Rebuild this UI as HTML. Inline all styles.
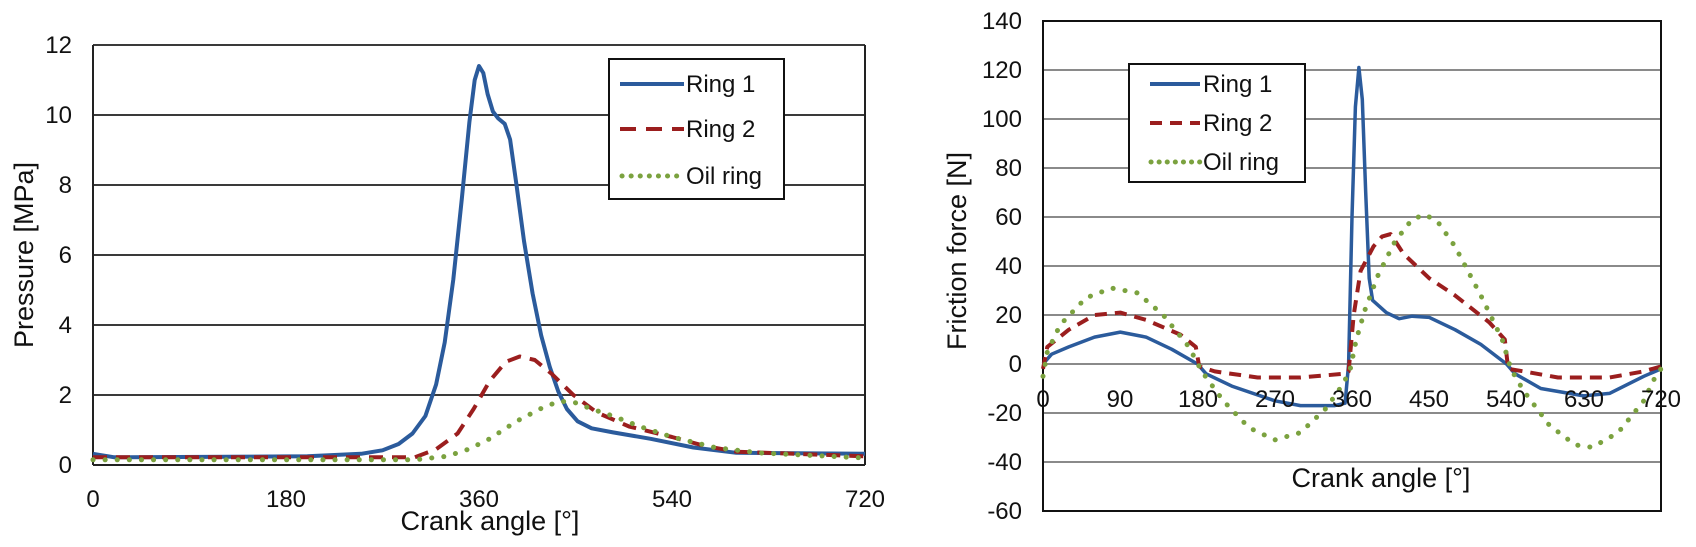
<!DOCTYPE html>
<html><head><meta charset="utf-8">
<style>
html,body{margin:0;padding:0;background:#fff;}
svg{display:block;}
text{font-family:"Liberation Sans",Arial,sans-serif;fill:#111;}
</style></head>
<body>
<svg id="s" width="1696" height="547" viewBox="0 0 1696 547" xmlns="http://www.w3.org/2000/svg">
<rect width="1696" height="547" fill="#fff"/>
<g id="L"></g>
<g id="R"></g>
<g font-size="24" text-anchor="end">
<text x="72" y="53">12</text><text x="72" y="123">10</text><text x="72" y="193">8</text>
<text x="72" y="263">6</text><text x="72" y="333">4</text><text x="72" y="403">2</text><text x="72" y="473">0</text>
</g>
<g font-size="24" text-anchor="middle">
<text x="93" y="507">0</text><text x="286" y="507">180</text><text x="479" y="507">360</text>
<text x="672" y="507">540</text><text x="865" y="507">720</text>
</g>
<text x="490" y="530" font-size="27" text-anchor="middle">Crank angle [°]</text>
<text transform="translate(33,255) rotate(-90)" font-size="27" text-anchor="middle">Pressure [MPa]</text>
<g font-size="24" text-anchor="end">
<text x="1022" y="29">140</text><text x="1022" y="78">120</text><text x="1022" y="127">100</text>
<text x="1022" y="176">80</text><text x="1022" y="225">60</text><text x="1022" y="274">40</text>
<text x="1022" y="323">20</text><text x="1022" y="372">0</text><text x="1022" y="421">-20</text>
<text x="1022" y="470">-40</text><text x="1022" y="519">-60</text>
</g>
<g font-size="24" text-anchor="middle">
<text x="1043" y="407">0</text><text x="1120" y="407">90</text><text x="1198" y="407">180</text>
<text x="1275" y="407">270</text><text x="1352" y="407">360</text><text x="1429" y="407">450</text>
<text x="1506" y="407">540</text><text x="1584" y="407">630</text><text x="1661" y="407">720</text>
</g>
<text x="1381" y="487" font-size="27" text-anchor="middle">Crank angle [°]</text>
<text transform="translate(966,251) rotate(-90)" font-size="27" text-anchor="middle">Friction force [N]</text>
<g>
<rect x="609" y="59" width="175" height="140" fill="#fff" stroke="#111" stroke-width="2"/>
<line x1="620" y1="84" x2="684" y2="84" stroke="#2b5b9c" stroke-width="4"/>
<line x1="620" y1="129" x2="684" y2="129" stroke="#9b1e1e" stroke-width="4" stroke-dasharray="16,10"/>
<line x1="622" y1="176" x2="682" y2="176" stroke="#7ba23f" stroke-width="5" stroke-linecap="round" stroke-dasharray="0.1,9"/>
<text x="686" y="92" font-size="24">Ring 1</text>
<text x="686" y="137" font-size="24">Ring 2</text>
<text x="686" y="184" font-size="24">Oil ring</text>
</g>
<g>
<rect x="1129" y="64" width="176" height="118" fill="#fff" stroke="#111" stroke-width="2"/>
<line x1="1150" y1="84" x2="1200" y2="84" stroke="#2b5b9c" stroke-width="4"/>
<line x1="1150" y1="123" x2="1200" y2="123" stroke="#9b1e1e" stroke-width="4" stroke-dasharray="12,8"/>
<line x1="1151" y1="162" x2="1200" y2="162" stroke="#7ba23f" stroke-width="5" stroke-linecap="round" stroke-dasharray="0.1,8"/>
<text x="1203" y="92" font-size="24">Ring 1</text>
<text x="1203" y="131" font-size="24">Ring 2</text>
<text x="1203" y="170" font-size="24">Oil ring</text>
</g>
</svg>
<script>
(function(){
var NS="http://www.w3.org/2000/svg";
function el(p,t,a){var e=document.createElementNS(NS,t);for(var k in a)e.setAttribute(k,a[k]);p.appendChild(e);return e;}
function poly(p,pts,fx,fy,attrs){var d=pts.map(function(q,i){return (i?"L":"M")+fx(q[0]).toFixed(1)+","+fy(q[1]).toFixed(1);}).join(" ");attrs.d=d;attrs.fill="none";attrs["stroke-linejoin"]="round";el(p,"path",attrs);}
var L=document.getElementById("L"),R=document.getElementById("R");
var lx=function(t){return 93+t*772/720;}, ly=function(v){return 465-v*35;};
for(var v=2;v<=12;v+=2) el(L,"line",{x1:93,x2:865,y1:ly(v),y2:ly(v),stroke:"#3a3a3a","stroke-width":2});
el(L,"line",{x1:93,x2:865,y1:465,y2:465,stroke:"#222","stroke-width":2});
el(L,"line",{x1:93,x2:93,y1:45,y2:465,stroke:"#222","stroke-width":2});
el(L,"line",{x1:865,x2:865,y1:45,y2:465,stroke:"#222","stroke-width":2});
var r1=[[0,0.32],[20,0.22],[200,0.25],[250,0.32],[270,0.42],[285,0.6],[298,0.9],[310,1.4],[320,2.3],[328,3.5],[336,5.3],[344,7.6],[351,9.8],[356,11.0],[360,11.4],[364,11.2],[368,10.6],[373,10.1],[378,9.9],[384,9.75],[389,9.3],[395,8.0],[402,6.4],[410,4.9],[418,3.7],[426,2.8],[434,2.1],[442,1.6],[452,1.25],[465,1.05],[485,0.93],[520,0.75],[560,0.5],[600,0.35],[720,0.32]];
var r2=[[0,0.22],[300,0.22],[320,0.45],[340,0.9],[355,1.6],[370,2.4],[385,2.95],[398,3.1],[412,3.0],[428,2.6],[448,2.0],[470,1.5],[500,1.1],[540,0.8],[570,0.55],[600,0.38],[720,0.25]];
var oi=[[0,0.15],[300,0.15],[330,0.25],[350,0.45],[370,0.75],[395,1.25],[420,1.65],[435,1.82],[448,1.8],[465,1.6],[485,1.4],[510,1.1],[540,0.8],[580,0.5],[620,0.35],[720,0.2]];
poly(L,r1,lx,ly,{stroke:"#2b5b9c","stroke-width":4});
poly(L,r2,lx,ly,{stroke:"#9b1e1e","stroke-width":4,"stroke-dasharray":"14,9"});
poly(L,oi,lx,ly,{stroke:"#7ba23f","stroke-width":5,"stroke-linecap":"round","stroke-dasharray":"0.1,12"});
var rx=function(t){return 1043+t*618/720;}, ry=function(v){return 364-v*2.45;};
for(var v=-40;v<=120;v+=20) el(R,"line",{x1:1043,x2:1661,y1:ry(v),y2:ry(v),stroke:"#8a8a8a","stroke-width":2});
el(R,"rect",{x:1043,y:21,width:618,height:490,fill:"none",stroke:"#111","stroke-width":2});
var f1=[[0,0],[10,4],[30,7],[60,11],[90,13],[120,11],[150,6],[180,0],[190,-4],[220,-9],[270,-15],[300,-17],[340,-17],[352,-16],[356,0],[360,60],[364,105],[368,121],[372,108],[376,70],[380,35],[384,26],[400,21],[415,18.5],[430,19.5],[450,19],[480,14],[510,8],[540,0],[550,-4],[580,-10],[630,-13],[660,-12],[700,-5],[720,-2]];
var f2=[[0,-2],[5,7],[30,14],[60,20],[90,21],[120,18],[160,12],[178,7],[182,-1],[200,-3],[250,-5.5],[300,-5.5],[350,-4],[356,-3],[362,20],[370,38],[385,48],[395,52],[405,53],[420,45],[450,35],[480,28],[520,17],[538,10],[542,-2],[560,-3],[600,-5.5],[660,-5.5],[700,-3],[720,-1]];
var f3=[[0,-5],[5,5],[20,16],[50,27],[80,31],[110,29],[140,20],[170,7],[185,-3],[210,-15],[240,-26],[270,-31],[300,-28],[330,-18],[350,-8],[358,-2],[365,10],[375,22],[390,36],[410,50],[430,59],[445,61],[460,58],[480,48],[510,28],[535,10],[545,-2],[560,-11],[590,-25],[620,-33],[640,-34],[670,-28],[700,-15],[715,-4],[720,-2]];
poly(R,f1,rx,ry,{stroke:"#2b5b9c","stroke-width":3.5});
poly(R,f2,rx,ry,{stroke:"#9b1e1e","stroke-width":4,"stroke-dasharray":"12,8"});
poly(R,f3,rx,ry,{stroke:"#7ba23f","stroke-width":5,"stroke-linecap":"round","stroke-dasharray":"0.1,12"});
})();
</script>
</body></html>
